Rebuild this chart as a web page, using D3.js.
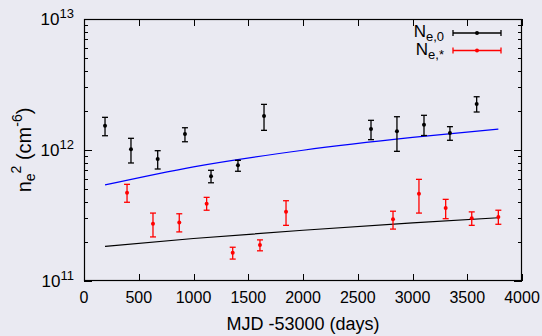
<!DOCTYPE html>
<html>
<head>
<meta charset="utf-8">
<script src="https://cdn.jsdelivr.net/npm/d3@7"></script>
<style>
  html, body { margin: 0; padding: 0; background: #eaeaf2; }
  svg { display: block; font-family: "Liberation Sans", Arial, Helvetica, sans-serif; }
</style>
</head>
<body>
<svg id="chart" width="542" height="336"></svg>
<script>
// Observation epochs (MJD - 53000, days)
const mjd0 = [192, 429, 673, 922, 1160, 1406, 1644, 2621, 2858, 3105, 3342, 3586];
// N_e,0 squared densities (cm^-6) with lower / upper error limits
const ne0 = [1.533e12, 1.012e12, 8.53e11, 1.324e12, 6.30e11, 7.64e11, 1.818e12, 1.445e12, 1.39e12, 1.56e12, 1.349e12, 2.245e12];
const ne0Lo = [1.285e12, 7.96e11, 7.16e11, 1.156e12, 5.62e11, 6.88e11, 1.413e12, 1.199e12, 9.77e11, 1.29e12, 1.186e12, 1.95e12];
const ne0Hi = [1.776e12, 1.228e12, 9.88e11, 1.479e12, 7.0e11, 8.34e11, 2.23e12, 1.685e12, 1.795e12, 1.84e12, 1.507e12, 2.55e12];

const mjdS = [393, 630, 870, 1120, 1358, 1607, 1845, 2822, 3059, 3303, 3541, 3784];
// N_e,* squared densities (cm^-6) with lower / upper error limits
const neS = [4.72e11, 2.74e11, 2.80e11, 3.89e11, 1.645e11, 1.88e11, 3.38e11, 2.96e11, 4.64e11, 3.61e11, 3.01e11, 3.08e11];
const neSLo = [3.99e11, 2.17e11, 2.37e11, 3.47e11, 1.47e11, 1.70e11, 2.66e11, 2.49e11, 3.30e11, 2.99e11, 2.66e11, 2.71e11];
const neSHi = [5.47e11, 3.30e11, 3.26e11, 4.35e11, 1.81e11, 2.06e11, 4.10e11, 3.41e11, 5.97e11, 4.20e11, 3.37e11, 3.47e11];

// Trend curves
const trendT = [192, 1000, 2000, 3000, 3784];
const trendBlue = [5.41e11, 7.44e11, 9.96e11, 1.248e12, 1.445e12];
const trendBlack = [1.84e11, 2.11e11, 2.44e11, 2.78e11, 3.04e11];

const xTicks = [0, 500, 1000, 1500, 2000, 2500, 3000, 3500, 4000];
const yDecades = [11, 12, 13];

const svg = d3.select("#chart");
const W = 542, H = 336;
const m = { left: 84, right: 20, top: 19, bottom: 55 };
const x0 = m.left, x1 = W - m.right, y0 = m.top, y1 = H - m.bottom;

svg.append("rect").attr("width", W).attr("height", H).attr("fill", "#eaeaf2");

const x = d3.scaleLinear().domain([0, 4000]).range([x0, x1]);
const y = d3.scaleLog().domain([1e11, 1e13]).range([y1, y0]);

// Ticks on all four sides, pointing inward
const majorLen = 7, minorLen = 4;
const tickG = svg.append("g").attr("stroke", "#000").attr("stroke-width", 1);
xTicks.forEach(t => {
  const px = Math.round(x(t)) + 0.5;
  tickG.append("line").attr("x1", px).attr("x2", px).attr("y1", y1).attr("y2", y1 - majorLen);
  tickG.append("line").attr("x1", px).attr("x2", px).attr("y1", y0).attr("y2", y0 + majorLen);
});
const minorVals = [];
for (let d = 11; d < 13; d++) for (let k = 2; k <= 9; k++) minorVals.push(k * Math.pow(10, d));
minorVals.forEach(v => {
  const py = Math.round(y(v)) + 0.5;
  tickG.append("line").attr("x1", x0).attr("x2", x0 + minorLen).attr("y1", py).attr("y2", py);
  tickG.append("line").attr("x1", x1).attr("x2", x1 - minorLen).attr("y1", py).attr("y2", py);
});
yDecades.forEach(d => {
  const py = Math.round(y(Math.pow(10, d))) + 0.5;
  tickG.append("line").attr("x1", x0).attr("x2", x0 + 8).attr("y1", py).attr("y2", py);
  tickG.append("line").attr("x1", x1).attr("x2", x1 - 8).attr("y1", py).attr("y2", py);
});

// Tick labels
svg.append("g").selectAll("text").data(xTicks).join("text")
  .attr("x", d => x(d)).attr("y", 303)
  .attr("text-anchor", "middle").attr("font-size", 16).attr("fill", "#000")
  .text(d => d);

const yl = svg.append("g").selectAll("text").data(yDecades).join("text")
  .attr("x", 74).attr("y", d => y(Math.pow(10, d)) + 6)
  .attr("text-anchor", "end").attr("font-size", 17).attr("fill", "#000");
yl.append("tspan").text("10");
yl.append("tspan").attr("dy", -7).attr("font-size", 13).text(d => d);

// Axis titles
svg.append("text").attr("x", (x0 + x1) / 2).attr("y", 330)
  .attr("text-anchor", "middle").attr("font-size", 18).text("MJD -53000 (days)");

const yt = svg.append("text")
  .attr("transform", `translate(31,${(y0 + y1) / 2}) rotate(-90)`)
  .attr("text-anchor", "middle").attr("font-size", 20);
yt.append("tspan").text("n");
yt.append("tspan").attr("dy", 4).attr("font-size", 14).text("e");
yt.append("tspan").attr("dy", -14).attr("font-size", 14).text("2");
yt.append("tspan").attr("dy", 10).text(" (cm");
yt.append("tspan").attr("dy", -9).attr("font-size", 14).text("-6");
yt.append("tspan").attr("dy", 9).text(")");

// Trend curves
const line = d3.line().x(d => x(d[0])).y(d => y(d[1])).curve(d3.curveMonotoneX);
svg.append("path").datum(trendT.map((t, i) => [t, trendBlue[i]]))
  .attr("d", line).attr("fill", "none").attr("stroke", "#0000ff").attr("stroke-width", 1.2);
svg.append("path").datum(trendT.map((t, i) => [t, trendBlack[i]]))
  .attr("d", line).attr("fill", "none").attr("stroke", "#000").attr("stroke-width", 1.2);

// Error bars with caps and a filled dot
function errorSeries(ts, vals, lo, hi, color) {
  const g = svg.append("g").attr("stroke", color).attr("fill", color);
  ts.forEach((t, i) => {
    const px = x(t);
    g.append("line").attr("x1", px).attr("x2", px).attr("y1", y(lo[i])).attr("y2", y(hi[i])).attr("stroke-width", 1.3);
    [lo[i], hi[i]].forEach(v => {
      g.append("line").attr("x1", px - 3).attr("x2", px + 3).attr("y1", y(v)).attr("y2", y(v)).attr("stroke-width", 1.3);
    });
    g.append("circle").attr("cx", px).attr("cy", y(vals[i])).attr("r", 2).attr("stroke", "none");
  });
}
errorSeries(mjd0, ne0, ne0Lo, ne0Hi, "#000");
errorSeries(mjdS, neS, neSLo, neSHi, "#ff0000");

// Frame
svg.append("rect").attr("x", x0 + 0.5).attr("y", y0 + 0.5)
  .attr("width", x1 - x0 - 1).attr("height", y1 - y0 - 1)
  .attr("fill", "none").attr("stroke", "#000").attr("stroke-width", 1.2);

// Legend
const legendItems = [
  { sub: "e,0", color: "#000", base: 37 },
  { sub: "e,*", color: "#ff0000", base: 54.5 }
];
legendItems.forEach(it => {
  const t = svg.append("text").attr("x", 444).attr("y", it.base).attr("text-anchor", "end").attr("font-size", 17);
  t.append("tspan").text("N");
  t.append("tspan").attr("dy", 4).attr("font-size", 13).text(it.sub);
  const ly = it.base - 4;
  const g = svg.append("g").attr("stroke", it.color).attr("fill", it.color).attr("stroke-width", 1.3);
  g.append("line").attr("x1", 453).attr("x2", 501).attr("y1", ly).attr("y2", ly);
  g.append("line").attr("x1", 453).attr("x2", 453).attr("y1", ly - 3).attr("y2", ly + 3);
  g.append("line").attr("x1", 501).attr("x2", 501).attr("y1", ly - 3).attr("y2", ly + 3);
  g.append("circle").attr("cx", 477).attr("cy", ly).attr("r", 2).attr("stroke", "none");
});
</script>
</body>
</html>
